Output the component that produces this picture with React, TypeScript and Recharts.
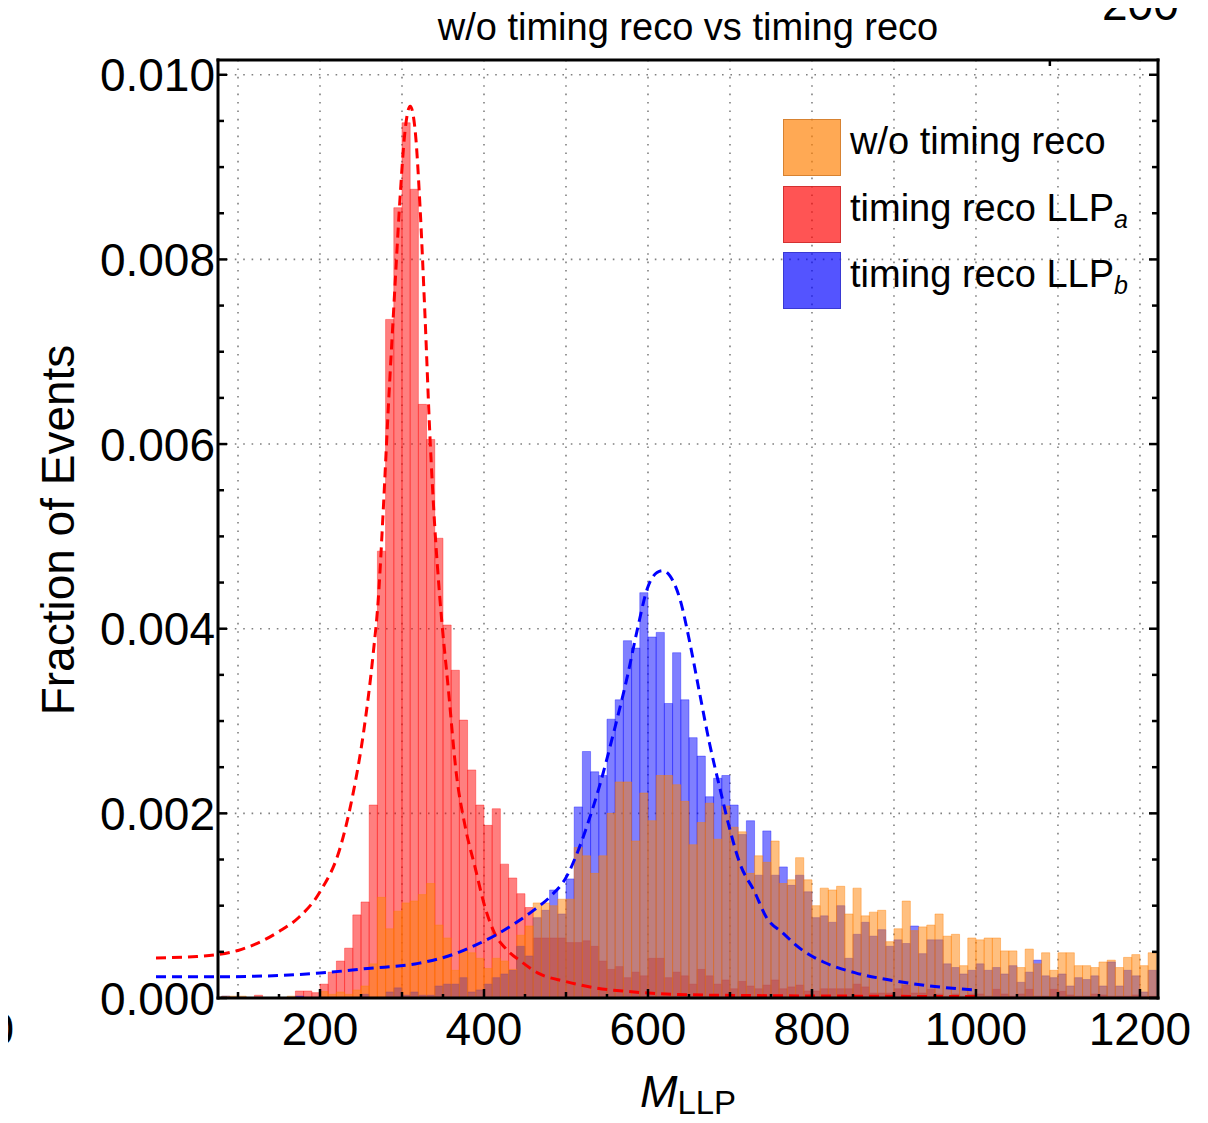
import React from 'react';
import { ComposedChart, Bar, Line, XAxis, YAxis, CartesianGrid, Legend } from 'recharts';

const FONT = '"Liberation Sans", Arial, Helvetica, sans-serif';

// histogram bins are 10 wide, the first one is 80-90
const BIN_WIDTH = 10;
const FIRST_BIN_CENTER = 85;

// fraction of events per bin, in units of 1e-3 (bins 80..1220)
const WO_TIMING = [
  0.02, 0.02, 0.02, 0, 0, 0, 0, 0, 0.02, 0,
  0, 0, 0.07, 0.04, 0.065, 0.04, 0.087, 0.13, 0.37, 1.09,
  0.75, 0.94, 1.03, 1.05, 1.12, 1.24, 0.79, 0.65, 0.3, 0.52,
  0.49, 0.43, 0.32, 0.43, 0.4, 0.31, 0.68, 0.78, 1.03, 1.03,
  1.0, 1.07, 1.07, 1.63, 1.54, 1.35, 1.54, 2.0, 2.34, 2.34,
  1.7, 2.22, 1.92, 2.41, 2.41, 2.31, 2.13, 1.66, 1.9, 2.11,
  1.72, 2.08, 1.85, 1.8, 1.35, 1.54, 1.47, 1.7, 1.24, 1.28,
  1.52, 1.28, 1.0, 1.19, 1.17, 1.21, 0.91, 1.19, 0.89, 0.93,
  0.95, 0.61, 0.75, 1.05, 0.73, 0.77, 0.79, 0.91, 0.67, 0.69,
  0.35, 0.65, 0.63, 0.65, 0.65, 0.51, 0.51, 0.33, 0.53, 0.37,
  0.49, 0.3, 0.49, 0.49, 0.35, 0.35, 0.33, 0.39, 0.41, 0.33,
  0.44, 0.47, 0.35, 0.49,
];

const LLP_A = [
  0, 0, 0, 0, 0.03, 0, 0, 0, 0, 0.076,
  0.076, 0.058, 0.15, 0.28, 0.4, 0.54, 0.9, 1.04, 2.09, 4.84,
  7.35, 8.56, 9.48, 8.76, 6.43, 6.05, 4.98, 4.04, 3.55, 3.01,
  2.47, 2.09, 1.87, 2.05, 1.45, 1.3, 1.13, 0.98, 0.65, 0.65,
  0.65, 0.65, 0.6, 0.6, 0.62, 0.56, 0.4, 0.31, 0.34, 0.22,
  0.28, 0.24, 0.43, 0.43, 0.22, 0.28, 0.24, 0.15, 0.31, 0.24,
  0.15, 0.195, 0.1, 0.18, 0.13, 0.1, 0.14, 0.195, 0.1, 0.12,
  0.14, 0.076, 0.076, 0.1, 0.1, 0.1, 0.1, 0.15, 0.12, 0.054,
  0.054, 0.054, 0.1, 0.14, 0.054, 0.054, 0.094, 0.043, 0.02, 0.043,
  0.02, 0.043, 0.043, 0.02, 0.094, 0.043, 0.02, 0.043, 0.094, 0.02,
  0.02, 0.094, 0.072, 0.033, 0.02, 0.02, 0.043, 0.033, 0.02, 0.02,
  0.02, 0.033, 0.02, 0.02,
];

const LLP_B = [
  0.02, 0, 0, 0, 0, 0, 0, 0, 0, 0.02,
  0, 0, 0, 0, 0, 0, 0, 0.04, 0, 0,
  0.065, 0.11, 0.03, 0.065, 0.03, 0.03, 0.13, 0.15, 0.15, 0.22,
  0.065, 0.087, 0.15, 0.22, 0.26, 0.3, 0.56, 0.455, 0.87, 0.95,
  1.17, 0.91, 1.29, 2.07, 2.67, 2.45, 2.41, 3.02, 3.23, 3.87,
  3.79, 4.39, 3.91, 3.96, 3.19, 3.74, 3.23, 2.82, 2.62, 2.18,
  2.38, 2.41, 2.09, 1.77, 1.92, 1.33, 1.81, 1.33, 1.42, 1.22,
  1.33, 1.15, 0.87, 0.89, 0.82, 1.0, 0.43, 0.69, 0.82, 0.67,
  0.74, 0.56, 0.63, 0.59, 0.78, 0.48, 0.63, 0.63, 0.37, 0.33,
  0.26, 0.3, 0.37, 0.3, 0.33, 0.26, 0.35, 0.17, 0.28, 0.41,
  0.24, 0.22, 0.26, 0.13, 0.22, 0.2, 0.24, 0.13, 0.39, 0.13,
  0.3, 0.24, 0.065, 0.3,
];

// dashed fit curves (x, fraction in 1e-3)
const FIT_A_X = [0, 50, 100, 150, 175, 200, 225, 240, 253, 265, 271, 277, 283, 291, 298, 303, 310, 316, 322, 328, 334, 340, 346, 357, 366, 377, 389, 401, 413, 426, 446, 466, 499, 535, 576, 650, 750, 850, 1000];
const FIT_A_Y = [0.434, 0.45, 0.515, 0.72, 0.88, 1.15, 1.64, 2.2, 2.87, 3.74, 4.31, 5.26, 6.34, 7.64, 8.72, 9.33, 9.66, 9.4, 8.57, 7.4, 6.1, 5.1, 4.35, 3.3, 2.45, 1.86, 1.42, 0.99, 0.7, 0.54, 0.39, 0.27, 0.18, 0.11, 0.07, 0.035, 0.025, 0.02, 0.015];
const FIT_B_X = [0, 76, 200, 258, 320, 368, 389, 414, 438, 462, 481, 501, 515, 527, 542, 558, 575, 587, 599, 611, 618, 627, 639, 651, 663, 675, 688, 700, 712, 730, 744, 765, 785, 814, 854, 895, 944, 1000];
const FIT_B_Y = [0.23, 0.23, 0.27, 0.32, 0.375, 0.49, 0.57, 0.68, 0.81, 0.96, 1.1, 1.32, 1.6, 1.9, 2.33, 2.87, 3.49, 3.99, 4.43, 4.61, 4.63, 4.57, 4.32, 3.85, 3.3, 2.76, 2.26, 1.82, 1.46, 1.15, 0.88, 0.7, 0.54, 0.39, 0.27, 0.195, 0.13, 0.087];

const X_TICKS = [100, 150, 200, 250, 300, 350, 400, 450, 500, 550, 600, 650, 700, 750, 800, 850, 900, 950, 1000, 1050, 1100, 1150, 1200];
const X_LABELED = [200, 400, 600, 800, 1000, 1200];
const X_GRID = [100, 200, 300, 400, 500, 600, 700, 800, 900, 1000, 1100, 1200];
const Y_TICKS = [0, 0.5, 1, 1.5, 2, 2.5, 3, 3.5, 4, 4.5, 5, 5.5, 6, 6.5, 7, 7.5, 8, 8.5, 9, 9.5, 10];
const Y_LABELED = [0, 2, 4, 6, 8, 10];
const Y_GRID = [2, 4, 6, 8, 10];

const LEGEND_ITEMS = [
  { key: 'wo', label: 'w/o timing reco', sub: '', swatch: 'rgba(255,127,0,0.67)', edge: 'rgba(205,120,40,0.8)' },
  { key: 'a', label: 'timing reco LLP', sub: 'a', swatch: 'rgba(255,0,0,0.67)', edge: 'rgba(200,40,40,0.8)' },
  { key: 'b', label: 'timing reco LLP', sub: 'b', swatch: 'rgba(0,0,255,0.67)', edge: 'rgba(50,50,200,0.8)' },
];

const WIDTH = 1208;
const HEIGHT = 1123;
const PLOT_LEFT = 218;
const PLOT_RIGHT = 1158;
const PLOT_TOP = 60;
const PLOT_BOTTOM = 998;
const X_DOMAIN: [number, number] = [75.6, 1222];
const Y_DOMAIN: [number, number] = [0, 10.16];
const FIT_DOMAIN: [number, number] = [0, 1000];
const LEFT_AXIS_W = 170;
const BOTTOM_AXIS_H = 60;
const EDGE_AXIS = 2;

const PX_PER_UNIT = (PLOT_RIGHT - PLOT_LEFT) / (X_DOMAIN[1] - X_DOMAIN[0]);
const BAR_PX = BIN_WIDTH * PX_PER_UNIT - 0.02;
// fit curves start at 0, left of the frame, like the original
const FIT_PAD = {
  left: (FIT_DOMAIN[0] - X_DOMAIN[0]) * PX_PER_UNIT,
  right: (X_DOMAIN[1] - FIT_DOMAIN[1]) * PX_PER_UNIT,
};

const bins = WO_TIMING.map((wo, i) => ({
  x: FIRST_BIN_CENTER + i * BIN_WIDTH,
  wo,
  a: LLP_A[i],
  b: LLP_B[i],
}));
const fitA = FIT_A_X.map((x, i) => ({ x, y: FIT_A_Y[i] }));
const fitB = FIT_B_X.map((x, i) => ({ x, y: FIT_B_Y[i] }));

const TICK_STROKE = { stroke: '#000', strokeWidth: 2.5 };
const FRAME = { stroke: '#000', strokeWidth: 3, strokeLinecap: 'square' as const };

const xTickLen = (v: number) => (v % 200 === 0 ? 9 : v % 100 === 0 ? 6 : 4);
const yTickLen = (v: number) => (v % 2 === 0 ? 9 : 6);

function BottomTick({ x, y, payload }: any) {
  const v = payload.value;
  return (
    <g>
      <line x1={x} x2={x} y1={y} y2={y - xTickLen(v)} {...TICK_STROKE} />
      {X_LABELED.includes(v) && (
        <text x={x} y={y + 47} textAnchor="middle" fontSize={46} fontFamily={FONT} fill="#000">
          {v}
        </text>
      )}
    </g>
  );
}

function TopTick({ x, y, payload }: any) {
  return <line x1={x} x2={x} y1={y} y2={y + xTickLen(payload.value)} {...TICK_STROKE} />;
}

function LeftTick({ x, y, payload }: any) {
  const v = payload.value;
  return (
    <g>
      <line x1={x} x2={x + yTickLen(v)} y1={y} y2={y} {...TICK_STROKE} />
      {Y_LABELED.includes(v) && (
        <text x={x - 3} y={y + 16.5} textAnchor="end" fontSize={46} fontFamily={FONT} fill="#000">
          {(v / 1000).toFixed(3)}
        </text>
      )}
    </g>
  );
}

function RightTick({ x, y, payload }: any) {
  return <line x1={x} x2={x - yTickLen(payload.value)} y1={y} y2={y} {...TICK_STROKE} />;
}

function LegendBox() {
  return (
    <div style={{ fontFamily: FONT, fontSize: 38, lineHeight: 1, color: '#000' }}>
      {LEGEND_ITEMS.map((item) => (
        <div key={item.key} style={{ display: 'flex', alignItems: 'flex-start', height: 57, marginBottom: 9.5 }}>
          <div
            style={{
              width: 58,
              height: 57,
              background: item.swatch,
              border: `1px solid ${item.edge}`,
              boxSizing: 'border-box',
              flex: 'none',
            }}
          />
          <span style={{ marginLeft: 9, paddingTop: 3, whiteSpace: 'nowrap' }}>
            {item.label}
            {item.sub && (
              <span style={{ fontStyle: 'italic', fontSize: 25, verticalAlign: -7 }}>{item.sub}</span>
            )}
          </span>
        </div>
      ))}
    </div>
  );
}

const textBase: React.CSSProperties = {
  position: 'absolute',
  fontFamily: FONT,
  color: '#000',
  whiteSpace: 'nowrap',
  lineHeight: 1,
};

export default function App() {
  return (
    <div style={{ position: 'relative', width: WIDTH, height: HEIGHT, margin: -8, overflow: 'hidden', background: '#fff' }}>
      <ComposedChart
        width={WIDTH}
        height={HEIGHT}
        data={bins}
        margin={{
          top: PLOT_TOP - EDGE_AXIS,
          right: WIDTH - PLOT_RIGHT - EDGE_AXIS,
          bottom: HEIGHT - PLOT_BOTTOM - BOTTOM_AXIS_H,
          left: PLOT_LEFT - LEFT_AXIS_W,
        }}
        barGap={0}
        barCategoryGap={0}
      >
        <CartesianGrid
          xAxisId="xo"
          verticalValues={X_GRID}
          horizontalValues={Y_GRID}
          stroke="#808080"
          strokeWidth={1.6}
          strokeDasharray="1.6 6.8"
        />

        {/* the visible frame axes come first so they sit right against the plot */}
        <XAxis
          xAxisId="xo"
          type="number"
          dataKey="x"
          domain={X_DOMAIN}
          ticks={X_TICKS}
          interval={0}
          height={BOTTOM_AXIS_H}
          tickSize={0}
          tickMargin={0}
          tickLine={false}
          axisLine={FRAME}
          tick={BottomTick}
        />
        <XAxis
          xAxisId="top"
          orientation="top"
          type="number"
          domain={X_DOMAIN}
          allowDataOverflow
          ticks={X_TICKS}
          interval={0}
          height={EDGE_AXIS}
          tickSize={0}
          tickMargin={0}
          tickLine={false}
          axisLine={FRAME}
          tick={TopTick}
        />
        <YAxis
          type="number"
          domain={Y_DOMAIN}
          ticks={Y_TICKS}
          interval={0}
          width={LEFT_AXIS_W}
          tickSize={0}
          tickMargin={0}
          tickLine={false}
          axisLine={FRAME}
          tick={LeftTick}
        />
        <YAxis
          yAxisId="right"
          orientation="right"
          type="number"
          domain={Y_DOMAIN}
          allowDataOverflow
          ticks={Y_TICKS}
          interval={0}
          width={EDGE_AXIS}
          tickSize={0}
          tickMargin={0}
          tickLine={false}
          axisLine={FRAME}
          tick={RightTick}
        />

        <XAxis xAxisId="xa" type="number" dataKey="x" domain={X_DOMAIN} ticks={X_TICKS} height={0} hide />
        <XAxis xAxisId="xb" type="number" dataKey="x" domain={X_DOMAIN} ticks={X_TICKS} height={0} hide />
        <XAxis xAxisId="fit" type="number" dataKey="x" domain={FIT_DOMAIN} padding={FIT_PAD} height={0} hide />

        <Bar
          xAxisId="xa"
          dataKey="a"
          fill="#ff0000"
          fillOpacity={0.5}
          stroke="#ff0000"
          strokeOpacity={0.45}
          strokeWidth={0.8}
          barSize={BAR_PX}
          isAnimationActive={false}
        />
        <Bar
          xAxisId="xb"
          dataKey="b"
          fill="#0000ff"
          fillOpacity={0.5}
          stroke="#0000ff"
          strokeOpacity={0.45}
          strokeWidth={0.8}
          barSize={BAR_PX}
          isAnimationActive={false}
        />
        <Bar
          xAxisId="xo"
          dataKey="wo"
          fill="#ff8000"
          fillOpacity={0.5}
          stroke="#ff8000"
          strokeOpacity={0.5}
          strokeWidth={0.8}
          barSize={BAR_PX}
          isAnimationActive={false}
        />

        <Line
          xAxisId="fit"
          data={fitA}
          dataKey="y"
          type="monotone"
          stroke="#ff0000"
          strokeWidth={3}
          strokeDasharray="10 6"
          dot={false}
          activeDot={false}
          isAnimationActive={false}
        />
        <Line
          xAxisId="fit"
          data={fitB}
          dataKey="y"
          type="monotone"
          stroke="#0000ff"
          strokeWidth={3}
          strokeDasharray="10 6"
          dot={false}
          activeDot={false}
          isAnimationActive={false}
        />

        <Legend
          layout="horizontal"
          verticalAlign="middle"
          align="center"
          wrapperStyle={{ left: 783, top: 119, width: 'auto', height: 'auto' }}
          content={() => <LegendBox />}
        />
      </ComposedChart>

      {/* title and axis labels */}
      <div style={{ ...textBase, fontSize: 38, left: 688, top: 8, transform: 'translateX(-50%)' }}>
        w/o timing reco vs timing reco
      </div>
      <div
        style={{
          ...textBase,
          fontSize: 46,
          left: 58,
          top: 530,
          transform: 'translate(-50%, -50%) rotate(-90deg)',
        }}
      >
        Fraction of Events
      </div>
      <div style={{ ...textBase, fontSize: 45, lineHeight: '45px', left: 688, top: 1069, transform: 'translateX(-50%)' }}>
        <span style={{ fontStyle: 'italic' }}>M</span>
        <span style={{ fontSize: 33, verticalAlign: -7 }}>LLP</span>
      </div>

      {/* pieces of the neighbouring panels that were cropped into the picture */}
      <div style={{ ...textBase, fontSize: 46, left: -36, width: 50, textAlign: 'right', top: 1006 }}>0</div>
      <div style={{ ...textBase, fontSize: 46, left: 1102, top: -19 }}>200</div>
    </div>
  );
}
